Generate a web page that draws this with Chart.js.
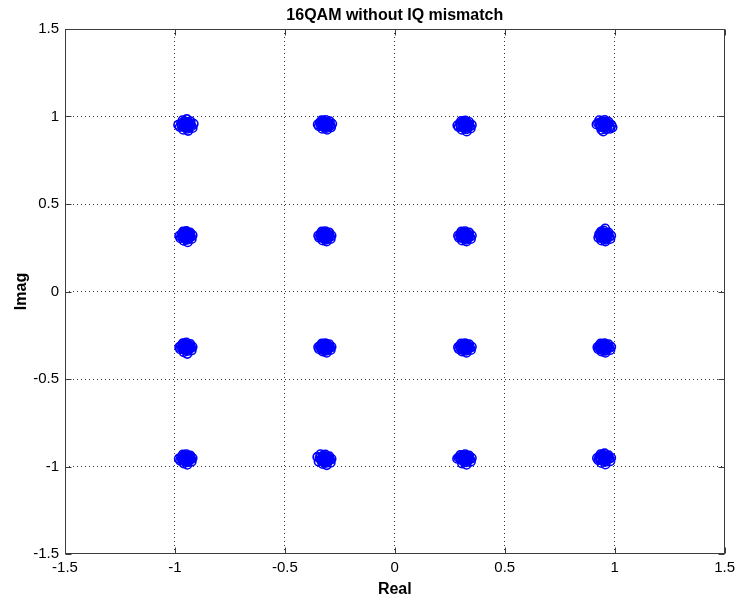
<!DOCTYPE html>
<html>
<head>
<meta charset="utf-8">
<script src="https://cdn.jsdelivr.net/npm/chart.js@4.4.1/dist/chart.umd.min.js"></script>
<style>
html,body{margin:0;padding:0;background:#fff;}
#wrap{width:740px;height:603px;}
</style>
</head>
<body>
<div id="wrap"><canvas id="c" width="740" height="603"></canvas></div>
<script>
const chartTitle = "16QAM without IQ mismatch";
const xAxisLabel = "Real";
const yAxisLabel = "Imag";
const tickValues = [-1.5, -1, -0.5, 0, 0.5, 1, 1.5];
const tickLabels = ["-1.5", "-1", "-0.5", "0", "0.5", "1", "1.5"];

// received symbols, [real, imag], grouped by constellation row
const upperRow = [
[-0.950,0.952],[-0.932,0.961],[-0.968,0.945],[-0.941,0.930],[-0.958,0.972],[-0.925,0.945],[-0.972,0.960],[-0.946,0.985],[-0.915,0.958],[-0.962,0.925],[-0.938,0.948],[-0.955,0.938],[-0.978,0.940],[-0.929,0.972],[-0.948,0.965],[-0.920,0.935],[-0.965,0.978],[-0.985,0.952],[-0.940,0.918],[-0.957,0.955],
[-0.944,0.956],[-0.958,0.946],[-0.936,0.940],[-0.962,0.962],[-0.950,0.970],[-0.930,0.955],[-0.968,0.952],[-0.945,0.942],[-0.952,0.936],[-0.940,0.966],
[-0.318,0.955],[-0.300,0.962],[-0.335,0.948],[-0.310,0.935],[-0.326,0.975],[-0.292,0.948],[-0.340,0.965],[-0.314,0.980],[-0.285,0.958],[-0.330,0.930],[-0.305,0.950],[-0.322,0.940],[-0.345,0.945],[-0.296,0.972],[-0.316,0.966],[-0.290,0.938],[-0.333,0.978],[-0.350,0.955],[-0.308,0.925],[-0.325,0.958],
[-0.312,0.958],[-0.326,0.948],[-0.304,0.942],[-0.330,0.964],[-0.318,0.970],[-0.298,0.956],[-0.336,0.954],[-0.313,0.944],[-0.321,0.938],[-0.308,0.968],
[0.318,0.950],[0.335,0.958],[0.300,0.942],[0.326,0.928],[0.308,0.970],[0.342,0.943],[0.296,0.960],[0.321,0.976],[0.350,0.952],[0.305,0.925],[0.330,0.946],[0.313,0.936],[0.290,0.940],[0.338,0.968],[0.320,0.962],[0.345,0.932],[0.302,0.974],[0.285,0.950],[0.327,0.915],[0.311,0.953],
[0.324,0.954],[0.310,0.945],[0.332,0.938],[0.306,0.962],[0.318,0.968],[0.338,0.952],[0.300,0.950],[0.322,0.942],[0.315,0.934],[0.328,0.964],
[0.952,0.952],[0.970,0.960],[0.935,0.945],[0.962,0.928],[0.942,0.972],[0.978,0.940],[0.925,0.962],[0.955,0.980],[0.985,0.952],[0.940,0.925],[0.965,0.946],[0.948,0.936],[0.918,0.955],[0.972,0.970],[0.955,0.964],[0.980,0.930],[0.930,0.978],[0.948,0.915],[0.990,0.938],[0.958,0.952],
[0.946,0.956],[0.960,0.946],[0.938,0.940],[0.964,0.962],[0.952,0.970],[0.932,0.955],[0.970,0.952],[0.947,0.942],[0.955,0.936],[0.942,0.966]
];
const upperMidRow = [
[-0.950,0.318],[-0.933,0.328],[-0.966,0.310],[-0.944,0.296],[-0.958,0.338],[-0.927,0.312],[-0.970,0.326],[-0.948,0.345],[-0.920,0.322],[-0.960,0.290],[-0.939,0.316],[-0.954,0.304],[-0.975,0.305],[-0.931,0.336],[-0.947,0.330],[-0.924,0.300],[-0.963,0.342],[-0.980,0.318],[-0.942,0.282],[-0.956,0.322],
[-0.944,0.322],[-0.958,0.312],[-0.936,0.306],[-0.962,0.328],[-0.950,0.336],[-0.930,0.320],[-0.968,0.318],[-0.945,0.308],[-0.952,0.300],[-0.940,0.332],
[-0.318,0.318],[-0.302,0.326],[-0.334,0.310],[-0.312,0.296],[-0.325,0.338],[-0.294,0.312],[-0.338,0.328],[-0.316,0.344],[-0.288,0.320],[-0.328,0.292],[-0.306,0.314],[-0.321,0.304],[-0.344,0.308],[-0.298,0.336],[-0.314,0.330],[-0.292,0.300],[-0.332,0.342],[-0.348,0.320],[-0.310,0.286],[-0.324,0.322],
[-0.312,0.322],[-0.326,0.312],[-0.304,0.306],[-0.330,0.328],[-0.318,0.336],[-0.298,0.320],[-0.336,0.318],[-0.313,0.308],[-0.321,0.300],[-0.308,0.332],
[0.318,0.318],[0.334,0.326],[0.302,0.310],[0.326,0.296],[0.310,0.338],[0.342,0.312],[0.298,0.328],[0.320,0.344],[0.350,0.320],[0.306,0.292],[0.330,0.314],[0.314,0.304],[0.292,0.308],[0.338,0.336],[0.322,0.330],[0.346,0.300],[0.303,0.342],[0.288,0.320],[0.326,0.286],[0.312,0.322],
[0.324,0.322],[0.310,0.312],[0.332,0.306],[0.306,0.328],[0.318,0.336],[0.338,0.320],[0.300,0.318],[0.322,0.308],[0.315,0.300],[0.328,0.332],
[0.952,0.318],[0.968,0.326],[0.936,0.310],[0.960,0.296],[0.944,0.338],[0.976,0.312],[0.930,0.328],[0.950,0.348],[0.984,0.320],[0.940,0.292],[0.964,0.314],[0.948,0.304],[0.926,0.308],[0.972,0.336],[0.956,0.330],[0.980,0.300],[0.938,0.342],[0.957,0.360],[0.958,0.286],[0.946,0.322],
[0.946,0.322],[0.960,0.312],[0.938,0.306],[0.964,0.328],[0.952,0.336],[0.932,0.320],[0.970,0.318],[0.947,0.308],[0.955,0.300],[0.942,0.332]
];
const lowerMidRow = [
[-0.950,-0.318],[-0.934,-0.308],[-0.966,-0.326],[-0.942,-0.340],[-0.958,-0.298],[-0.926,-0.322],[-0.972,-0.310],[-0.948,-0.292],[-0.920,-0.316],[-0.960,-0.346],[-0.938,-0.320],[-0.954,-0.332],[-0.976,-0.330],[-0.930,-0.300],[-0.946,-0.306],[-0.924,-0.336],[-0.964,-0.296],[-0.980,-0.318],[-0.944,-0.356],[-0.956,-0.314],
[-0.944,-0.314],[-0.958,-0.324],[-0.936,-0.330],[-0.962,-0.308],[-0.950,-0.302],[-0.930,-0.318],[-0.968,-0.320],[-0.945,-0.328],[-0.952,-0.336],[-0.940,-0.304],
[-0.318,-0.318],[-0.302,-0.310],[-0.334,-0.326],[-0.310,-0.338],[-0.326,-0.300],[-0.294,-0.322],[-0.340,-0.312],[-0.316,-0.296],[-0.288,-0.316],[-0.328,-0.342],[-0.306,-0.320],[-0.322,-0.332],[-0.344,-0.330],[-0.298,-0.302],[-0.314,-0.306],[-0.292,-0.334],[-0.332,-0.298],[-0.348,-0.318],[-0.310,-0.350],[-0.324,-0.314],
[-0.312,-0.314],[-0.326,-0.324],[-0.304,-0.330],[-0.330,-0.308],[-0.318,-0.302],[-0.298,-0.318],[-0.336,-0.320],[-0.313,-0.328],[-0.321,-0.336],[-0.308,-0.304],
[0.318,-0.318],[0.334,-0.310],[0.302,-0.326],[0.326,-0.338],[0.310,-0.300],[0.342,-0.322],[0.296,-0.312],[0.320,-0.296],[0.350,-0.316],[0.306,-0.342],[0.330,-0.320],[0.314,-0.332],[0.292,-0.330],[0.338,-0.302],[0.322,-0.306],[0.346,-0.334],[0.302,-0.298],[0.288,-0.318],[0.326,-0.350],[0.312,-0.314],
[0.324,-0.314],[0.310,-0.324],[0.332,-0.330],[0.306,-0.308],[0.318,-0.302],[0.338,-0.318],[0.300,-0.320],[0.322,-0.328],[0.315,-0.336],[0.328,-0.304],
[0.952,-0.318],[0.968,-0.310],[0.936,-0.326],[0.960,-0.338],[0.944,-0.300],[0.976,-0.322],[0.930,-0.312],[0.954,-0.296],[0.984,-0.316],[0.940,-0.342],[0.964,-0.320],[0.948,-0.332],[0.926,-0.330],[0.972,-0.302],[0.956,-0.306],[0.980,-0.334],[0.936,-0.298],[0.922,-0.318],[0.958,-0.350],[0.946,-0.314],
[0.946,-0.314],[0.960,-0.324],[0.938,-0.330],[0.964,-0.308],[0.952,-0.302],[0.932,-0.318],[0.970,-0.320],[0.947,-0.328],[0.955,-0.336],[0.942,-0.304]
];
const lowerRow = [
[-0.950,-0.955],[-0.934,-0.945],[-0.966,-0.962],[-0.942,-0.975],[-0.958,-0.935],[-0.926,-0.958],[-0.972,-0.948],[-0.948,-0.930],[-0.920,-0.952],[-0.960,-0.982],[-0.938,-0.956],[-0.954,-0.968],[-0.976,-0.966],[-0.930,-0.938],[-0.946,-0.942],[-0.924,-0.972],[-0.964,-0.932],[-0.982,-0.955],[-0.944,-0.990],[-0.956,-0.950],
[-0.944,-0.951],[-0.958,-0.961],[-0.936,-0.967],[-0.962,-0.945],[-0.950,-0.939],[-0.930,-0.955],[-0.968,-0.957],[-0.945,-0.965],[-0.952,-0.973],[-0.940,-0.941],
[-0.318,-0.958],[-0.302,-0.948],[-0.334,-0.966],[-0.310,-0.978],[-0.326,-0.938],[-0.294,-0.962],[-0.342,-0.950],[-0.316,-0.932],[-0.288,-0.956],[-0.328,-0.985],[-0.306,-0.960],[-0.322,-0.972],[-0.346,-0.972],[-0.298,-0.942],[-0.314,-0.946],[-0.292,-0.978],[-0.338,-0.930],[-0.352,-0.945],[-0.310,-0.992],[-0.324,-0.955],
[-0.312,-0.954],[-0.326,-0.964],[-0.304,-0.970],[-0.330,-0.948],[-0.318,-0.942],[-0.298,-0.958],[-0.336,-0.960],[-0.313,-0.968],[-0.321,-0.976],[-0.308,-0.944],
[0.318,-0.955],[0.334,-0.945],[0.302,-0.962],[0.326,-0.975],[0.310,-0.935],[0.342,-0.958],[0.296,-0.948],[0.320,-0.930],[0.350,-0.952],[0.306,-0.982],[0.330,-0.956],[0.314,-0.968],[0.290,-0.950],[0.338,-0.938],[0.322,-0.942],[0.346,-0.972],[0.298,-0.935],[0.284,-0.955],[0.326,-0.990],[0.312,-0.950],
[0.324,-0.951],[0.310,-0.961],[0.332,-0.967],[0.306,-0.945],[0.318,-0.939],[0.338,-0.955],[0.300,-0.957],[0.322,-0.965],[0.315,-0.973],[0.328,-0.941],
[0.952,-0.952],[0.968,-0.942],[0.936,-0.960],[0.960,-0.972],[0.944,-0.932],[0.976,-0.955],[0.930,-0.945],[0.954,-0.925],[0.984,-0.950],[0.940,-0.980],[0.964,-0.954],[0.948,-0.966],[0.926,-0.964],[0.972,-0.936],[0.956,-0.940],[0.980,-0.970],[0.936,-0.930],[0.920,-0.952],[0.958,-0.988],[0.946,-0.948],
[0.946,-0.948],[0.960,-0.958],[0.938,-0.964],[0.964,-0.942],[0.952,-0.936],[0.932,-0.952],[0.970,-0.954],[0.947,-0.962],[0.955,-0.970],[0.942,-0.938]
];

const points = [].concat(upperRow, upperMidRow, lowerMidRow, lowerRow).map(p => ({x: p[0], y: p[1]}));

const FONT = "'Liberation Sans', Arial, Helvetica, sans-serif";
const AXIS_COLOR = '#3c3c3c';

const matlabAxes = {
  id: 'matlabAxes',
  afterDraw(chart) {
    const ctx = chart.ctx;
    const a = chart.chartArea;
    const xs = chart.scales.x, ys = chart.scales.y;
    const L = Math.round(a.left) + 0.5, R = Math.round(a.right) - 0.5;
    const T = Math.round(a.top) + 0.5, B = Math.round(a.bottom) - 0.5;
    ctx.save();
    ctx.strokeStyle = AXIS_COLOR;
    ctx.lineWidth = 1;
    ctx.setLineDash([]);
    ctx.strokeRect(L, T, R - L, B - T);
    const tl = 6;
    ctx.beginPath();
    tickValues.forEach(v => {
      const px = Math.round(xs.getPixelForValue(v)) + 0.5;
      ctx.moveTo(px, B); ctx.lineTo(px, B - tl);
      ctx.moveTo(px, T); ctx.lineTo(px, T + tl);
      const py = Math.round(ys.getPixelForValue(v)) + 0.5;
      ctx.moveTo(L, py); ctx.lineTo(L + tl, py);
      ctx.moveTo(R, py); ctx.lineTo(R - tl, py);
    });
    ctx.stroke();
    // titles
    ctx.fillStyle = '#000';
    ctx.font = 'bold 16px ' + FONT;
    ctx.textAlign = 'center';
    ctx.textBaseline = 'alphabetic';
    ctx.fillText(chartTitle, (a.left + a.right) / 2, 20);
    ctx.fillText(xAxisLabel, (a.left + a.right) / 2, 594);
    ctx.translate(26, (a.top + a.bottom) / 2);
    ctx.rotate(-Math.PI / 2);
    ctx.fillText(yAxisLabel, 0, 0);
    ctx.restore();
  }
};

const gridColor = ctx => (Math.abs(ctx.tick.value) === 1.5 ? 'rgba(0,0,0,0)' : '#333');

new Chart(document.getElementById('c'), {
  type: 'scatter',
  data: {
    datasets: [{
      label: 'symbols',
      data: points,
      pointStyle: 'circle',
      pointRadius: 4.3,
      pointBorderWidth: 1.6,
      borderColor: '#0000ff',
      backgroundColor: 'rgba(0,0,0,0)',
      pointHoverRadius: 4.3
    }]
  },
  plugins: [matlabAxes],
  options: {
    responsive: false,
    animation: false,
    events: [],
    layout: { padding: { top: 29, right: 13, left: 0, bottom: 0 } },
    plugins: { legend: { display: false }, tooltip: { enabled: false }, title: { display: false } },
    scales: {
      x: {
        type: 'linear', min: -1.5, max: 1.5,
        afterBuildTicks: s => { s.ticks = tickValues.map(v => ({ value: v })); },
        afterFit: s => { s.height = 49; },
        ticks: {
          callback: (v) => tickLabels[tickValues.indexOf(v)],
          font: { family: FONT, size: 15 }, color: '#000', padding: 5, maxRotation: 0, autoSkip: false
        },
        grid: { color: gridColor, drawTicks: false, lineWidth: 1 },
        border: { display: false, dash: [1, 3] }
      },
      y: {
        type: 'linear', min: -1.5, max: 1.5,
        afterBuildTicks: s => { s.ticks = tickValues.map(v => ({ value: v })); },
        afterFit: s => { s.width = 65; },
        ticks: {
          callback: (v) => tickLabels[tickValues.indexOf(v)],
          font: { family: FONT, size: 15 }, color: '#000', padding: 6, autoSkip: false
        },
        grid: { color: gridColor, drawTicks: false, lineWidth: 1 },
        border: { display: false, dash: [1, 3] }
      }
    }
  }
});
</script>
</body>
</html>
